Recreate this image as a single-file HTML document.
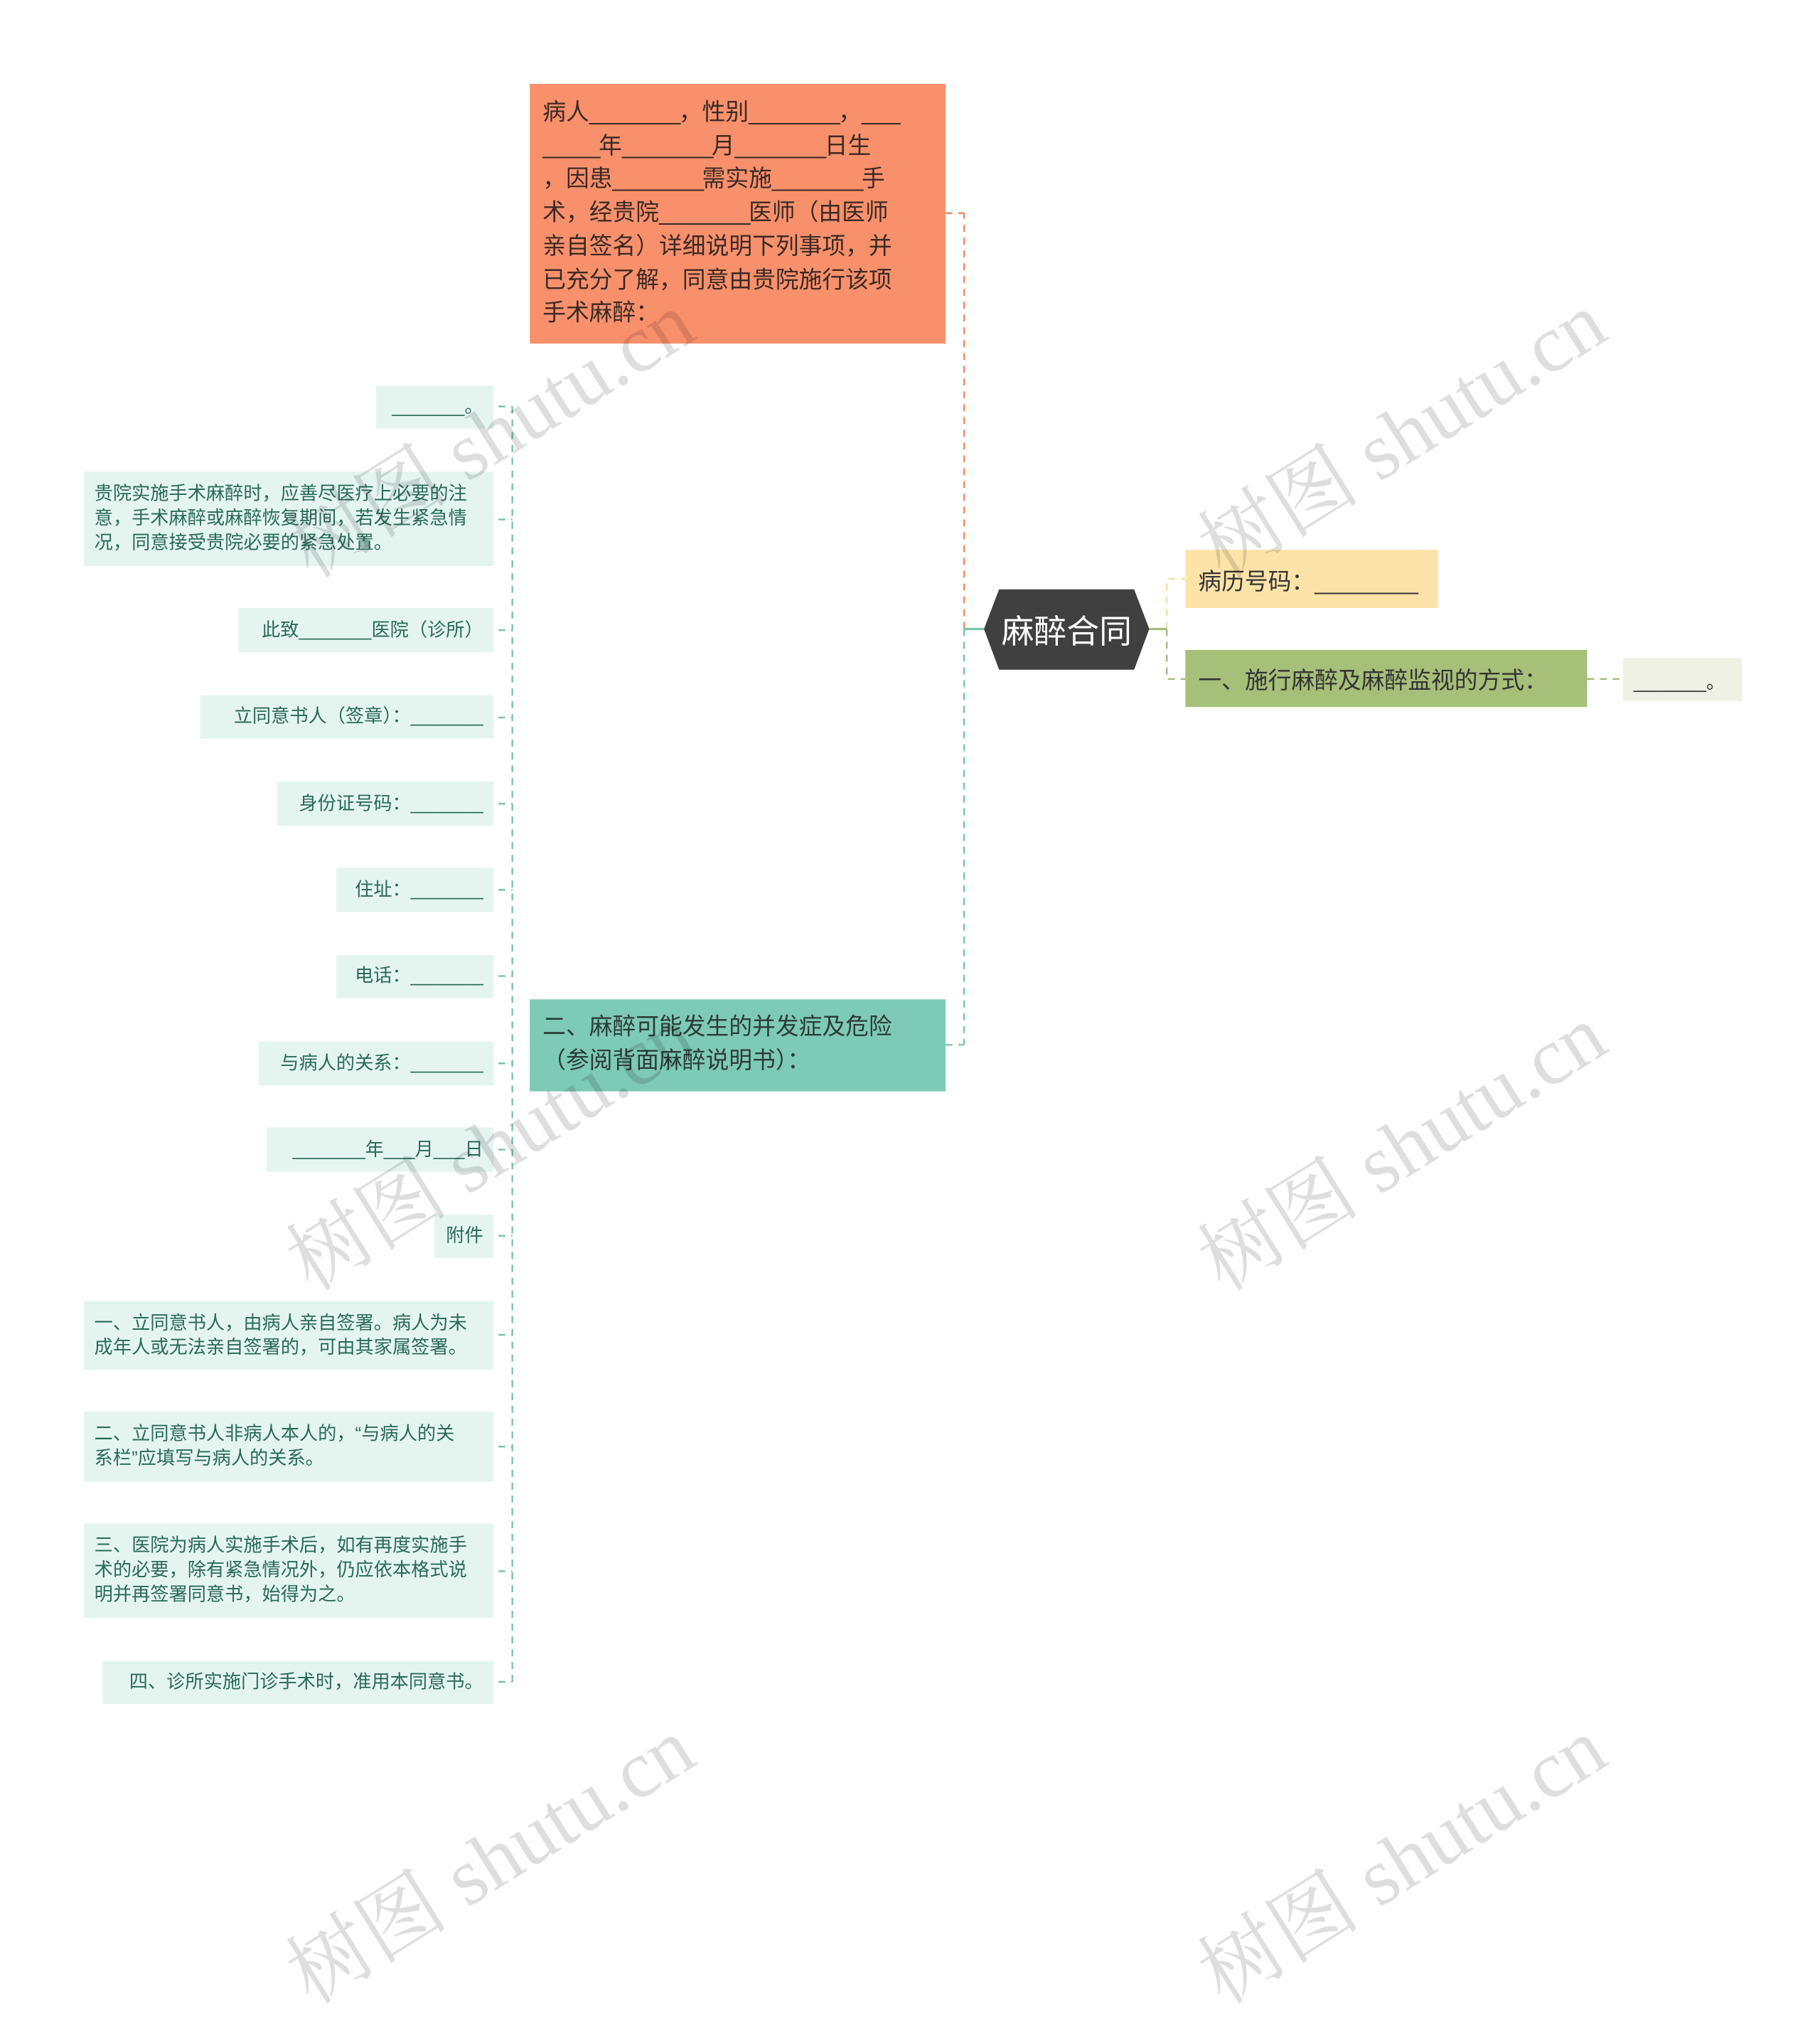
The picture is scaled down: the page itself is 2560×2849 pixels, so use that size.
<!DOCTYPE html>
<html><head><meta charset="utf-8"><style>
html,body{margin:0;padding:0;background:#fff;}
body{width:2560px;height:2508px;overflow:hidden;position:relative;}
#w{position:absolute;left:0;top:0;width:1563px;height:1532px;transform:scale(1.63788);transform-origin:0 0;font-family:"Liberation Sans","Noto Sans CJK SC",sans-serif;}
.b{position:absolute;box-sizing:border-box;}
.l{background:#e4f5f0;color:#2b6a58;font-size:16px;line-height:21px;padding:0 9px;display:flex;align-items:center;justify-content:flex-end;text-align:left;white-space:nowrap;}
.l.m{justify-content:flex-start;}
.wm{position:absolute;font-size:70px;color:rgba(0,0,0,0.13);transform:rotate(-32deg);transform-origin:0 0;white-space:nowrap;font-family:"Liberation Serif","Noto Serif CJK SC",serif;}
</style></head><body><div id="w">
<svg width="1563" height="1532" style="position:absolute;left:0;top:0">
<g fill="none" stroke-width="1.5" stroke-dasharray="6,5">
<path d="M440 349 V1444" stroke="#7ec3ad"/>
<g stroke="#7ec3ad">
<path d="M428 349H440M428 446H440M428 541H440M428 616H440M428 690H440M428 764H440M428 838H440M428 913H440M428 987H440M428 1061H440M428 1146H440M428 1242H440M428 1349H440M428 1444H440"/>
<path d="M828 540 V897 M812 897H828"/>
</g>
<path d="M828 540 V183 M812 183H828" stroke="#ef8a68"/>
<path d="M1002 540 V497 H1018" stroke="#f3dfa5"/>
<path d="M1002 540 V583 H1018 M1363 583 H1394" stroke="#a5bc7a"/>
</g>
<path d="M828 540H845" stroke="#7ec3ad" stroke-width="2"/>
<path d="M987 540H1002" stroke="#a5bc7a" stroke-width="2"/>
<polygon points="858,506 974,506 987,540 974,575 858,575 845,540" fill="#404040"/>
</svg>
<div class="b" style="left:845px;top:506px;width:142px;height:69px;color:#fff;font-size:28px;display:flex;align-items:center;justify-content:center;">麻醉合同</div>
<div class="b" style="left:455px;top:72px;width:357px;height:223px;background:#f9906c;color:#3a2a22;font-size:20px;line-height:28.7px;padding:11px 11px;white-space:nowrap;overflow:hidden;">病人<span style="letter-spacing:-1.5px">________</span>，性别<span style="letter-spacing:-1.5px">________</span>，___<br><span style="letter-spacing:-1.5px">_____</span>年<span style="letter-spacing:-1.5px">________</span>月<span style="letter-spacing:-1.5px">________</span>日生<br>，因患<span style="letter-spacing:-1.5px">________</span>需实施<span style="letter-spacing:-1.5px">________</span>手<br>术，经贵院<span style="letter-spacing:-1.5px">________</span>医师（由医师<br>亲自签名）详细说明下列事项，并<br>已充分了解，同意由贵院施行该项<br>手术麻醉：</div>
<div class="b" style="left:455px;top:858px;width:357px;height:79px;background:#7dcab6;color:#2c3b36;font-size:20px;line-height:28.7px;padding:10px 11px;white-space:nowrap;">二、麻醉可能发生的并发症及危险<br>（参阅背面麻醉说明书）：</div>
<div class="b" style="left:1018px;top:472px;width:217px;height:50px;background:#fee3a9;color:#333;font-size:20px;padding:0 11px;display:flex;align-items:center;">病历号码：________</div>
<div class="b" style="left:1018px;top:558px;width:345px;height:49px;background:#a6bf79;color:#333;font-size:20px;padding:0 11px;display:flex;align-items:center;">一、施行麻醉及麻醉监视的方式：</div>
<div class="b" style="left:1394px;top:565px;width:102px;height:37px;background:#eef1e4;color:#333;font-size:16px;padding:0 9px;display:flex;align-items:center;">_______。</div>
<div class="b l" style="left:323px;top:331px;width:101px;height:37px;">_______。</div>
<div class="b l m" style="left:72px;top:405px;width:352px;height:81px;">贵院实施手术麻醉时，应善尽医疗上必要的注<br>意，手术麻醉或麻醉恢复期间，若发生紧急情<br>况，同意接受贵院必要的紧急处置。</div>
<div class="b l" style="left:205px;top:522px;width:219px;height:38px;">此致_______医院（诊所）</div>
<div class="b l" style="left:172px;top:597px;width:252px;height:37px;">立同意书人（签章）：_______</div>
<div class="b l" style="left:238px;top:671px;width:186px;height:38px;">身份证号码：_______</div>
<div class="b l" style="left:289px;top:745px;width:135px;height:38px;">住址：_______</div>
<div class="b l" style="left:289px;top:820px;width:135px;height:37px;">电话：_______</div>
<div class="b l" style="left:222px;top:894px;width:202px;height:38px;">与病人的关系：_______</div>
<div class="b l" style="left:229px;top:968px;width:195px;height:38px;">_______年___月___日</div>
<div class="b l" style="left:373px;top:1043px;width:51px;height:37px;">附件</div>
<div class="b l m" style="left:72px;top:1117px;width:352px;height:59px;">一、立同意书人，由病人亲自签署。病人为未<br>成年人或无法亲自签署的，可由其家属签署。</div>
<div class="b l m" style="left:72px;top:1212px;width:352px;height:60px;">二、立同意书人非病人本人的，“与病人的关<br>系栏”应填写与病人的关系。</div>
<div class="b l m" style="left:72px;top:1308px;width:352px;height:81px;">三、医院为病人实施手术后，如有再度实施手<br>术的必要，除有紧急情况外，仍应依本格式说<br>明并再签署同意书，始得为之。</div>
<div class="b l" style="left:88px;top:1426px;width:336px;height:37px;">四、诊所实施门诊手术时，准用本同意书。</div>
<div class="wm" style="left:225px;top:430px;">树图 shutu.cn</div>
<div class="wm" style="left:1008px;top:430px;">树图 shutu.cn</div>
<div class="wm" style="left:225px;top:1042px;">树图 shutu.cn</div>
<div class="wm" style="left:1008px;top:1042px;">树图 shutu.cn</div>
<div class="wm" style="left:225px;top:1654px;">树图 shutu.cn</div>
<div class="wm" style="left:1008px;top:1654px;">树图 shutu.cn</div>
</div></body></html>
